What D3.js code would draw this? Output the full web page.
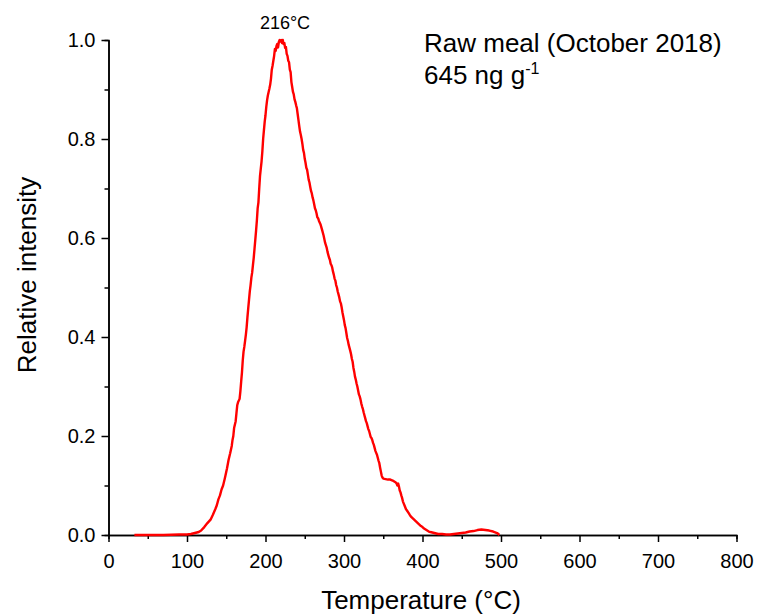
<!DOCTYPE html>
<html><head><meta charset="utf-8">
<script src="https://cdn.jsdelivr.net/npm/d3@7"></script>
<style>body{margin:0;background:#fff}svg{display:block;font-family:"Liberation Sans",Arial,sans-serif}</style>
</head><body><svg id="c" width="757" height="614"></svg>
<script>
const temperature = [33,50,70,90,100,105,110,115,118,122,126,130,133,136,138,140,142,144,146,148,149,151,153,155,157,158,159,160,162,163,164,165,167,168,169,170,171,172,173,174,175,176,177,178,179,180,181,182,183,184,185,186,187,188,189,190,191,192,193,194,195,196,197,198,199,200,201,202,203,204,205,206,207,208,209,210,211,212,213,214,215,216,217,218,219,220,221,222,223,224,225,226,227,228,229,230,231,232,233,234,235,236,237,238,239,240,241,242,243,244,245,246,247,248,249,250,251,252,253,254,255,256,257,258,259,260,261,262,263,264,265,266,267,268,270,272,274,276,277,278,279,280,281,282,283,284,285,286,287,288,289,290,291,292,293,294,295,296,297,298,299,300,301,302,303,304,305,306,307,308,309,310,311,312,313,314,315,316,317,318,319,320,321,322,323,324,325,326,327,328,329,330,331,332,333,334,335,336,337,338,339,340,341,342,343,344,345,346,347,348,349,350,353,356,359,362,364,366,367,368,369,370,371,372,373,374,375,376,377,378,379,380,382,384,386,388,390,392,394,396,398,400,402,404,406,408,410,415,420,425,430,435,440,445,450,455,460,465,470,475,480,485,490,495,498];
const intensity = [0,0,0,0.001,0.001,0.002,0.004,0.006,0.009,0.016,0.024,0.031,0.041,0.052,0.060,0.072,0.080,0.092,0.100,0.113,0.120,0.135,0.152,0.165,0.180,0.192,0.200,0.216,0.230,0.246,0.262,0.268,0.275,0.290,0.310,0.328,0.352,0.370,0.380,0.392,0.405,0.420,0.440,0.458,0.475,0.492,0.505,0.520,0.530,0.545,0.560,0.578,0.596,0.615,0.635,0.660,0.672,0.700,0.725,0.740,0.755,0.775,0.800,0.818,0.835,0.848,0.865,0.878,0.888,0.895,0.902,0.910,0.922,0.940,0.948,0.958,0.968,0.982,0.978,0.988,0.992,0.985,0.996,1.0,0.997,1.0,0.994,1.0,0.992,0.994,0.984,0.986,0.972,0.968,0.958,0.955,0.940,0.935,0.915,0.905,0.895,0.890,0.880,0.875,0.868,0.862,0.850,0.838,0.826,0.815,0.808,0.800,0.790,0.778,0.772,0.760,0.752,0.742,0.738,0.728,0.718,0.712,0.703,0.695,0.690,0.682,0.676,0.668,0.660,0.656,0.650,0.642,0.640,0.635,0.628,0.617,0.605,0.590,0.585,0.580,0.572,0.566,0.560,0.556,0.548,0.545,0.540,0.532,0.526,0.518,0.514,0.505,0.500,0.492,0.486,0.480,0.472,0.468,0.460,0.450,0.442,0.434,0.424,0.418,0.408,0.398,0.392,0.384,0.378,0.372,0.365,0.356,0.350,0.338,0.330,0.320,0.314,0.306,0.300,0.292,0.284,0.280,0.274,0.266,0.260,0.255,0.248,0.242,0.236,0.230,0.226,0.220,0.214,0.210,0.204,0.198,0.196,0.192,0.186,0.182,0.176,0.170,0.166,0.162,0.156,0.150,0.145,0.136,0.128,0.120,0.116,0.114,0.113,0.112,0.112,0.110,0.108,0.106,0.104,0.100,0.104,0.098,0.090,0.086,0.080,0.075,0.068,0.064,0.060,0.056,0.052,0.050,0.045,0.040,0.036,0.033,0.030,0.027,0.024,0.021,0.018,0.016,0.013,0.011,0.009,0.007,0.006,0.004,0.002,0.002,0.001,0.001,0.002,0.003,0.004,0.005,0.007,0.008,0.010,0.011,0.010,0.009,0.007,0.004,0];
const xTicks = [0,100,200,300,400,500,600,700,800];
const yTicks = [0.0,0.2,0.4,0.6,0.8,1.0];
const xMinor = [50,150,250,350,450,550,650,750];
const yMinor = [0.1,0.3,0.5,0.7,0.9];
const peakLabel = "216°C";
const titleLine1 = "Raw meal (October 2018)";

const svg = d3.select("#c");
const x = d3.scaleLinear().domain([0,800]).range([108.5,736.5]);
const y = d3.scaleLinear().domain([0,1]).range([535,40]);

const gx = svg.append("g").attr("transform","translate(0,535)");
gx.call(d3.axisBottom(x).tickValues(xMinor).tickSize(4).tickFormat(""));
const gx2 = svg.append("g").attr("transform","translate(0,535)");
gx2.call(d3.axisBottom(x).tickValues(xTicks).tickSize(7).tickSizeOuter(0).tickPadding(12).tickFormat(d3.format("d")));
const gy = svg.append("g").attr("transform","translate(108.5,0)");
gy.call(d3.axisLeft(y).tickValues(yMinor).tickSize(4).tickFormat(""));
const gy2 = svg.append("g").attr("transform","translate(108.5,0)");
gy2.call(d3.axisLeft(y).tickValues(yTicks).tickSize(7).tickSizeOuter(0).tickPadding(6).tickFormat(d3.format(".1f")));
svg.selectAll(".domain").attr("stroke","#000").attr("stroke-width",1.5);
svg.selectAll(".tick line").attr("stroke","#000").attr("stroke-width",1.5);
svg.selectAll(".tick text").attr("font-size",20).attr("fill","#000").attr("font-family","Liberation Sans, Arial, sans-serif");

const data = temperature.map((t,i)=>[t,intensity[i]]);
svg.append("path").datum(data)
  .attr("fill","none").attr("stroke","#ff0000").attr("stroke-width",2.4).attr("stroke-linejoin","round")
  .attr("d", d3.line().x(d=>x(d[0])).y(d=>y(d[1])));

svg.append("text").attr("x",285).attr("y",29).attr("text-anchor","middle").attr("font-size",18).text(peakLabel);
svg.append("text").attr("x",424).attr("y",52).attr("font-size",26).text(titleLine1);
const t2 = svg.append("text").attr("x",424).attr("y",84).attr("font-size",26);
t2.append("tspan").text("645 ng g");
t2.append("tspan").attr("dy",-10).attr("font-size",16).text("-1");
svg.append("text").attr("x",421).attr("y",609).attr("text-anchor","middle").attr("font-size",26).text("Temperature (°C)");
svg.append("text").attr("transform","translate(36,275) rotate(-90)").attr("text-anchor","middle").attr("font-size",26).text("Relative intensity");
</script></body></html>
